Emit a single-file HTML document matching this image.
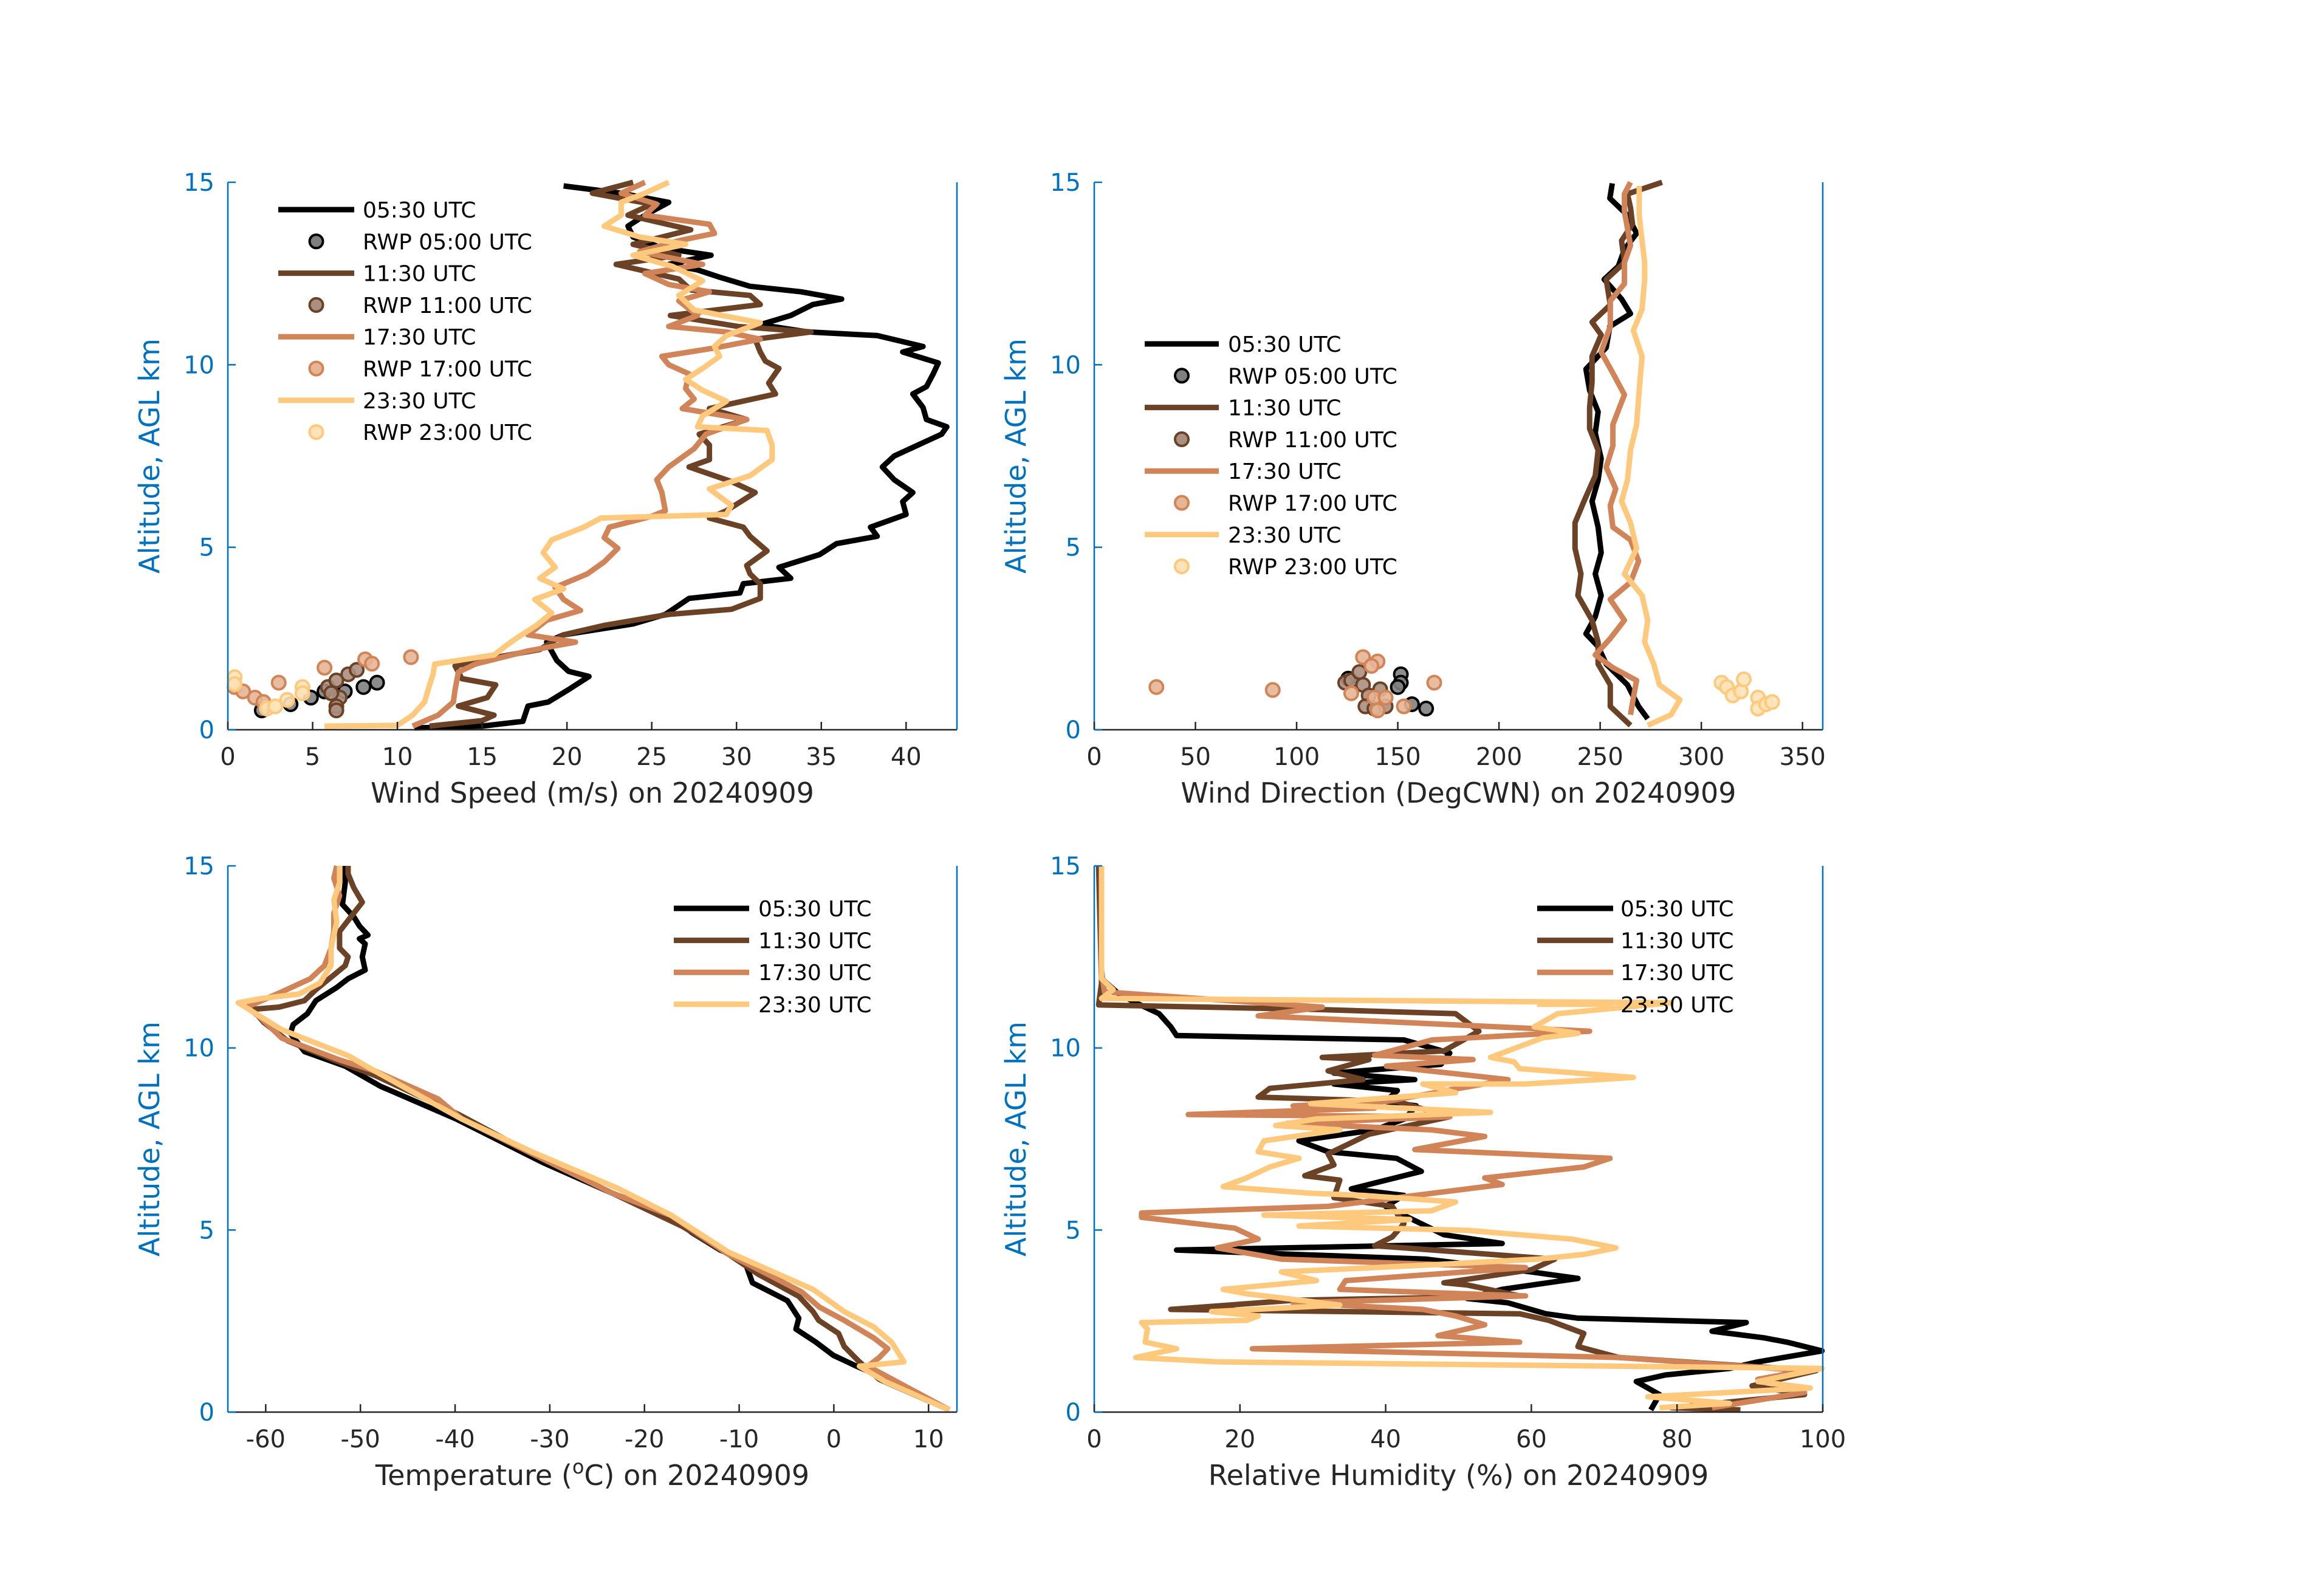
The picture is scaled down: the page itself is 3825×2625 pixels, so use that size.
<!DOCTYPE html>
<html><head><meta charset="utf-8"><style>
html,body{margin:0;padding:0;background:#fff;}
svg{display:block;font-family:"DejaVu Sans","Liberation Sans",sans-serif;}
</style></head><body>
<svg id="fig" width="3825" height="2625" viewBox="0 0 3825 2625" xmlns="http://www.w3.org/2000/svg"></svg>
<script>
// ---------- DATA ----------
const seriesLabels = ["05:30 UTC","11:30 UTC","17:30 UTC","23:30 UTC"];
const rwpLabels = ["RWP 05:00 UTC","RWP 11:00 UTC","RWP 17:00 UTC","RWP 23:00 UTC"];
// Wind speed (m/s)
const ws0_alt=[0.05,0.1,0.23,0.65,0.76,1.1,1.46,1.6,1.9,2.4,2.6,2.9,3.16,3.6,3.75,4.0,4.15,4.45,4.8,5.1,5.3,5.55,5.9,6.25,6.5,6.85,7.2,7.5,7.8,8.1,8.3,8.5,8.83,9.2,9.4,9.75,10.05,10.35,10.5,10.8,10.9,11.1,11.35,11.65,11.8,12.0,12.15,12.4,12.6,12.75,13.0,13.2,13.5,13.8,14.1,14.45,14.7,14.9];
const ws0_val=[11,15,17.4,17.7,18.9,20.1,21.3,20.1,19.4,18.8,19.8,23.9,25.8,27.2,30.2,30.4,33.2,32.5,34.9,35.9,38.3,37.9,40.0,39.8,40.4,39.3,38.6,39.3,40.7,42.1,42.4,41.2,41.0,40.4,41.2,41.6,41.9,39.8,41.0,38.3,34.2,31.4,33.2,34.5,36.2,33.8,30.8,29.0,27.7,26.0,28.5,25.6,23.9,23.6,24.6,26.0,23.2,19.8];
const ws1_alt=[0.1,0.25,0.4,0.65,0.88,1.23,1.4,1.75,2.0,2.2,2.6,2.86,3.16,3.3,3.6,4.0,4.27,4.5,4.9,5.3,5.55,5.8,6.0,6.5,6.8,7.2,7.4,7.8,8.1,8.5,8.8,9.2,9.5,9.9,10.1,10.35,10.7,10.9,11.05,11.35,11.65,11.9,12.05,12.35,12.75,13.0,13.3,13.7,14.1,14.4,14.7,15.0];
const ws1_val=[11.9,15.0,15.7,13.6,15.3,15.8,13.8,13.4,16.0,18.4,19.8,22.2,26.0,29.7,31.4,31.4,30.8,30.6,31.8,30.8,30.4,28.4,29.4,31.1,29.7,27.2,28.4,28.4,27.8,30.6,28.4,32.3,31.9,32.5,31.7,31.4,31.1,34.4,30.1,26.1,31.4,30.8,27.3,26.6,22.9,26.6,23.9,27.3,23.6,25.0,21.5,23.9];
const ws2_alt=[0.1,0.4,0.76,1.1,1.58,1.8,2.16,2.4,2.6,3.0,3.27,3.57,3.9,4.27,4.6,4.97,5.26,5.55,5.85,6.0,6.5,6.85,7.2,7.7,8.1,8.5,8.8,9.06,9.35,9.75,10.0,10.23,10.46,10.7,10.9,11.05,11.35,11.75,12.0,12.2,12.5,12.75,13.1,13.4,13.6,13.85,14.1,14.4,14.7,15.0];
const ws2_val=[10.9,12.4,13.3,13.4,13.6,14.6,17.7,20.5,17.7,18.8,20.8,19.8,19.3,21.2,22.2,23.0,22.2,22.5,25.0,25.8,25.6,25.3,26.0,27.5,28.2,30.6,26.8,27.5,27.0,27.2,26.0,25.6,28.7,31.4,29.4,26.0,27.7,26.6,28.4,26.0,24.6,28.0,24.3,26.6,28.7,28.4,24.6,25.3,23.2,24.6];
const ws3_alt=[0.1,0.12,0.4,0.76,1.23,1.52,1.8,2.05,2.3,2.5,2.86,3.2,3.57,3.86,4.15,4.45,4.85,5.2,5.55,5.8,5.9,6.15,6.6,6.96,7.4,7.8,8.2,8.3,8.6,9.0,9.3,9.6,9.9,10.23,10.5,10.8,11.15,11.5,11.9,12.3,12.7,13.0,13.3,13.5,13.8,14.1,14.45,14.7,15.0];
const ws3_val=[5.7,10.0,10.9,11.6,11.9,12.1,12.2,15.7,16.4,17.0,18.2,19.1,18.1,19.8,18.4,19.3,18.6,19.1,21.0,22.0,29.4,29.7,28.4,30.8,32.1,32.1,31.8,27.7,28.0,29.4,28.0,27.0,28.0,29.0,28.7,29.4,31.4,27.5,26.6,28.0,26.2,23.9,27.0,24.3,22.2,23.2,23.2,24.6,26.0];
// RWP wind speed points
const rwpWs0_spd=[2.0,3.7,4.9,5.7,6.9,8.0,8.8];
const rwpWs0_alt=[0.53,0.70,0.88,1.05,1.05,1.17,1.29];
const rwpWs1_spd=[5.9,6.4,7.1,7.6,6.6,6.4,6.4,6.1];
const rwpWs1_alt=[1.17,1.35,1.52,1.64,0.88,0.64,0.53,1.0];
const rwpWs2_spd=[0.4,0.9,1.6,3.0,5.7,8.1,8.5,10.8,2.1];
const rwpWs2_alt=[1.17,1.05,0.88,1.29,1.70,1.93,1.81,1.99,0.76];
const rwpWs3_spd=[0.4,0.4,2.3,2.8,3.5,4.4,4.4];
const rwpWs3_alt=[1.44,1.25,0.58,0.64,0.82,1.17,1.0];
// Wind direction (deg)
const wd0_alt=[0.3,0.64,1.23,1.8,2.28,2.63,3.1,3.68,4.27,4.85,5.55,6.26,6.84,7.43,8.13,8.71,9.3,9.88,10.47,11.05,11.4,11.8,12.34,12.7,13.16,13.6,14.1,14.56,14.97];
const wd0_val=[273.5,269,263.5,253,249,243,247.6,250.5,247.6,250.5,249,246,249,250.5,247.6,249,244.8,243,253,254.8,265,260.6,252,259,262,268,263.5,254.8,256];
const wd1_alt=[0.12,0.64,1.23,1.8,2.4,3.0,3.68,4.27,4.97,5.67,6.26,6.96,7.66,8.25,8.83,9.53,10.23,10.82,11.17,11.64,12.34,12.8,13.4,13.86,14.3,14.68,15.0];
const wd1_val=[265,255,255,249,249,246,239,240.5,237.6,237.6,242,247.6,249,244.8,244.8,246,246,250.5,246,255,253,262,260.6,266,265,263.5,280.6];
const wd2_alt=[0.41,0.88,1.35,1.7,2.05,2.5,3.0,3.57,4.04,4.62,5.2,5.55,6.14,6.6,7.19,7.78,8.36,9.18,9.77,10.35,11.05,11.75,12.22,12.8,13.27,13.74,14.2,14.68,15.0];
const wd2_val=[265,266.4,268,256.3,247.6,255,262,255,265,269,265,256.3,255,257.7,253,256.3,256.3,262,256.3,250.5,255,255,262,262,265,263.5,262,262,265];
const wd3_alt=[0.12,0.41,0.82,1.23,1.8,2.4,3.0,3.68,4.27,4.97,5.67,6.26,6.84,7.66,8.36,9.3,10.23,10.94,11.52,12.34,12.8,13.4,14.1,14.9];
const wd3_val=[273.5,285,289.4,279.3,276.5,272,273.5,270.7,262,268,265,260.6,263.5,265,268,269.3,270.7,266.4,270.7,272,272,270.7,269.3,269.3];
const rwpWd0_dir=[151.5,151.5,150,157,164,125.5];
const rwpWd0_alt=[1.52,1.29,1.17,0.7,0.58,1.4];
const rwpWd1_dir=[124,127,131,132.8,135.6,134,138.4,141.3,144];
const rwpWd1_alt=[1.29,1.35,1.58,1.23,0.94,0.64,0.58,1.11,0.64];
const rwpWd2_dir=[30.7,88.2,132.8,140,137,127,138.4,144,153,168,140];
const rwpWd2_alt=[1.17,1.09,1.99,1.87,1.75,1.0,0.88,0.88,0.64,1.29,0.53];
const rwpWd3_dir=[310,312.6,315.5,319.6,321,328,328,332,335];
const rwpWd3_alt=[1.29,1.17,0.94,1.05,1.38,0.88,0.58,0.7,0.76];
// Temperature (C)
const t0_alt=[0.06,0.78,1.26,1.56,1.92,2.28,2.58,3.06,3.55,4.2,4.45,4.93,5.41,6.0,6.85,8.05,8.95,9.5,9.9,10.4,10.64,10.94,11.3,11.66,11.9,12.14,12.5,12.86,13.0,13.1,13.35,13.6,13.94,14.54,15.0];
const t0_val=[12.2,6.7,2.4,-0.06,-1.9,-4.0,-3.7,-4.9,-8.6,-9.5,-12,-15,-17.2,-23.3,-30.7,-39.9,-47.9,-51.6,-55.9,-57.4,-57.1,-55.6,-54.7,-52.5,-51.3,-49.5,-49.8,-49.5,-50.1,-49.2,-50.1,-50.7,-51.9,-51.6,-51.6];
const t1_alt=[0.06,0.9,1.38,1.8,2.16,2.52,2.76,3.18,3.79,4.33,5.1,6.0,7.1,8.17,9.25,9.67,10.2,10.7,11.06,11.12,11.3,11.6,12.26,12.5,12.74,13.2,13.5,14.0,14.4,14.78,15.0];
const t1_val=[12.2,4.8,2.7,1.1,0.5,-1.6,-2.2,-3.7,-8.0,-11.1,-16,-23.3,-31.9,-39.6,-48.5,-52.8,-57.7,-60.2,-61.4,-58.6,-55.9,-54.7,-51.6,-51.3,-52.2,-52.2,-51.3,-49.8,-50.7,-51.3,-51.3];
const t2_alt=[0.06,1.26,1.5,1.74,2.04,2.52,2.88,3.3,3.72,4.33,5.4,6.0,7.1,8.05,8.6,9.37,9.67,10.27,10.82,11.12,11.54,11.9,12.26,12.74,13.2,13.7,14.18,14.66,15.0];
const t2_val=[12.2,3.6,4.8,5.7,4.2,1.1,-1.5,-3.4,-6.5,-11.1,-17.2,-23.3,-31.9,-39.3,-41.8,-48.5,-52.2,-58.3,-60.5,-62,-58.3,-55.3,-53.8,-53.1,-52.8,-52.8,-52.2,-52.8,-52.5];
const t3_alt=[0.06,0.84,1.26,1.38,1.92,2.34,2.76,3.37,4.39,5.41,6.13,7.15,8.05,9.37,9.79,10.5,11.24,11.36,11.48,11.78,12.26,12.74,13.46,14.06,14.54,15.0];
const t3_val=[12.2,5.4,2.7,7.4,6.1,4.2,1.1,-2.2,-11.1,-17.2,-22.7,-31.9,-39.3,-48.5,-51.3,-58.3,-62.9,-60.4,-56.5,-54.3,-53.1,-53.1,-52.5,-52.8,-52.2,-52.2];
// Relative humidity (%)
const rh0_alt=[0.06,0.48,0.84,1.02,1.2,1.38,1.68,1.92,2.04,2.22,2.46,2.58,2.7,3.0,3.12,3.37,3.67,3.85,4.2,4.45,4.63,4.87,5.17,5.65,5.95,6.13,6.61,6.97,7.15,7.45,7.75,8.05,8.41,8.53,8.83,9.01,9.13,9.31,9.55,9.86,10.22,10.34,10.58,10.94,11.24,11.48,11.9,15.0];
const rh0_val=[76.4,77.6,74.4,78.4,87.2,91.1,99.9,95.1,91.9,84.8,89.5,66.4,62,56.8,51.2,56,66.4,60,45.6,11.3,56,48,44.9,40,42.5,35.3,44.9,41.5,32.1,28.1,38.5,42.6,44.2,40,41.6,32.9,44,32.9,47.6,48.8,42.5,11.3,10.5,8.9,5.7,3.4,1,1];
const rh1_alt=[0.06,0.12,0.48,0.72,1.14,1.5,1.8,2.16,2.52,2.7,2.82,3.07,3.19,3.49,3.55,3.91,4.2,4.57,4.81,5.17,5.65,5.89,6.37,6.49,6.79,7.09,7.63,8.11,8.53,8.65,8.89,9.13,9.37,9.68,9.74,9.92,10.46,10.94,11.06,11.18,11.78,15.0];
const rh1_val=[88.7,79.2,97.5,90.3,99.1,72,66.4,67.2,62.4,58.4,10.5,27.3,58.4,51.2,48,60,63.2,38.5,40.9,42.5,40.9,32.9,33.7,28.9,32.9,32.1,37.7,48.8,41.6,22.5,24.1,36.9,32.1,37.7,31.3,48,52.8,49.6,29.7,0.6,1,0.6];
const rh2_alt=[0.12,0.54,0.9,1.14,1.5,1.74,1.92,2.1,2.4,2.64,2.82,3.0,3.19,3.37,3.61,3.97,4.2,4.51,4.75,5.05,5.35,5.47,5.65,6.25,6.43,6.73,6.97,7.21,7.57,7.75,7.93,8.11,8.17,8.35,8.41,8.53,9.13,9.5,9.68,9.8,10.22,10.46,10.7,10.88,11.12,11.54,12.14,15.0];
const rh2_val=[84.8,97.5,91.1,97.5,72,21.7,58.4,47.2,53.6,49.6,45.1,27.3,59.2,33.7,34.5,59.2,25.7,16.9,22.5,19.3,6.5,6.5,32.1,56,53.6,67.2,70.8,44,53.6,46.3,26.5,48.8,12.9,38.5,27.3,40,56.8,40.1,52,38.5,46.4,68,42.5,22.5,31.3,1.4,1,1];
const rh3_alt=[0.12,0.24,0.42,0.66,0.84,1.2,1.38,1.5,1.74,1.92,2.28,2.46,2.52,2.64,2.76,2.94,3.25,3.37,3.61,3.85,4.03,4.2,4.33,4.51,4.75,4.99,5.11,5.29,5.41,5.53,5.77,5.95,6.01,6.19,6.43,6.73,6.97,7.15,7.45,7.75,7.87,8.05,8.23,8.47,8.77,9.01,9.01,9.19,9.43,9.62,9.74,10.28,10.4,10.58,10.94,11.24,11.36,11.6,11.9,15.0];
const rh3_val=[77.6,87.2,76,98.3,91.1,99.9,16.9,5.7,11.3,7,7.3,6.5,20.9,22.5,16.1,33.7,20.9,17.7,30.5,25.7,44.9,60.8,67.2,71.6,65.6,51.2,28.1,43.3,23.3,46.3,49.6,36.9,29.7,17.7,20.9,24.1,28.1,22.5,23.3,33.7,24.9,30.5,54.4,29.7,49.6,45.1,59.2,74,58.4,57.6,54.4,61.6,66.4,60.4,63.6,79.2,1,2.6,1,1];
// tick labels
const yTicks=[0,5,10,15];
const wsTicks=[0,5,10,15,20,25,30,35,40];
const wdTicks=[0,50,100,150,200,250,300,350];
const tTicks=[-60,-50,-40,-30,-20,-10,0,10];
const rhTicks=[0,20,40,60,80,100];

// ---------- DRAWING ----------
const NS="http://www.w3.org/2000/svg";
const svg=document.getElementById('fig');
const colors=["#000000","#6b4226","#d08457","#ffc97d"];
const fills=["#7f7f7f","#ab8f80","#e6b595","#ffe3b8"];
function el(tag,attrs,parent){const e=document.createElementNS(NS,tag);for(const k in attrs)e.setAttribute(k,attrs[k]);(parent||svg).appendChild(e);return e;}
function panel(name,box,xmin,xmax,xticks,xlabel,lines,pts,legend){
  const g=el('g',{});
  
  
  const sx=v=>box.x0+(v-xmin)/(xmax-xmin)*(box.x1-box.x0);
  const sy=a=>box.y1-a/15*(box.y1-box.y0);
  lines.forEach((s,i)=>{
    const d=s.alt.map((a,j)=>(j?'L':'M')+sx(s.val[j]).toFixed(1)+' '+sy(a).toFixed(1)).join(' ');
    const p=el('path',{d:d,fill:'none',stroke:colors[i],'stroke-width':9,'stroke-linejoin':'round'},g);
    
    
  });
  (pts||[]).forEach((s,i)=>{
    s.v.forEach((v,j)=>{
      const c=el('circle',{cx:sx(v),cy:sy(s.a[j]),r:11,fill:fills[i],stroke:colors[i],'stroke-width':4,'fill-opacity':0.9},g);
      
      
    });
  });
  const xa=el('line',{x1:box.x0,y1:box.y1,x2:box.x1,y2:box.y1,stroke:'#262626','stroke-width':2.5},g);
  
  
  const ya=el('line',{x1:box.x0,y1:box.y0,x2:box.x0,y2:box.y1,stroke:'#0072bd','stroke-width':2.5},g);
  
  
  const ra=el('line',{x1:box.x1,y1:box.y0,x2:box.x1,y2:box.y1,stroke:'#0072bd','stroke-width':2.5},g);
  
  
  xticks.forEach(t=>{
    const x=sx(t);
    el('line',{x1:x,y1:box.y1,x2:x,y2:box.y1-13,stroke:'#262626','stroke-width':2.5},g);
    const tx=el('text',{x:x,y:box.y1+58,'font-size':40,fill:'#262626','text-anchor':'middle'},g);
    tx.textContent=t;
    
    
  });
  yTicks.forEach(t=>{
    const y=sy(t);
    el('line',{x1:box.x0,y1:y,x2:box.x0+13,y2:y,stroke:'#0072bd','stroke-width':2.5},g);
    const tx=el('text',{x:box.x0-22,y:y+14,'font-size':40,fill:'#0072bd','text-anchor':'end'},g);
    tx.textContent=t;
    
    
  });
  const xl=el('text',{x:(box.x0+box.x1)/2,y:box.y1+120,'font-size':46,fill:'#262626','text-anchor':'middle'},g);
  xl.innerHTML=xlabel;
  
  
  const cy=(box.y0+box.y1)/2, cx=box.x0-113;
  const yl=el('text',{x:cx,y:cy,'font-size':46,fill:'#0072bd','text-anchor':'middle',transform:'rotate(-90 '+cx+' '+cy+')'},g);
  yl.textContent='Altitude, AGL km';
  
  
  legend.rows.forEach((r,k)=>{
    const y=legend.y0+k*legend.dy;
    if(r.type==='line'){
      el('line',{x1:legend.lx0,y1:y,x2:legend.lx1,y2:y,stroke:colors[r.i],'stroke-width':9},g);
    } else {
      el('circle',{cx:(legend.lx0+legend.lx1)/2,cy:y,r:11,fill:fills[r.i],stroke:colors[r.i],'stroke-width':4},g);
    }
    const t=el('text',{x:legend.tx,y:y+13,'font-size':36,fill:'#000'},g);
    t.textContent=r.label;
    
    
  });
}
function legRows(withRwp){const rows=[];for(let i=0;i<4;i++){rows.push({type:'line',i:i,label:seriesLabels[i]});if(withRwp)rows.push({type:'pt',i:i,label:rwpLabels[i]});}return rows;}
const boxA={x0:375,x1:1575,y0:300,y1:1201};
const boxB={x0:1801,x1:3000,y0:300,y1:1201};
const boxC={x0:375,x1:1575,y0:1425,y1:2324};
const boxD={x0:1801,x1:3000,y0:1425,y1:2324};
panel('wind-speed',boxA,0,43,wsTicks,'Wind Speed (m/s) on 20240909',
  [{alt:ws0_alt,val:ws0_val},{alt:ws1_alt,val:ws1_val},{alt:ws2_alt,val:ws2_val},{alt:ws3_alt,val:ws3_val}],
  [{v:rwpWs0_spd,a:rwpWs0_alt},{v:rwpWs1_spd,a:rwpWs1_alt},{v:rwpWs2_spd,a:rwpWs2_alt},{v:rwpWs3_spd,a:rwpWs3_alt}],
  {rows:legRows(true),y0:345,dy:52.3,lx0:458,lx1:583,tx:597});
panel('wind-direction',boxB,0,360,wdTicks,'Wind Direction (DegCWN) on 20240909',
  [{alt:wd0_alt,val:wd0_val},{alt:wd1_alt,val:wd1_val},{alt:wd2_alt,val:wd2_val},{alt:wd3_alt,val:wd3_val}],
  [{v:rwpWd0_dir,a:rwpWd0_alt},{v:rwpWd1_dir,a:rwpWd1_alt},{v:rwpWd2_dir,a:rwpWd2_alt},{v:rwpWd3_dir,a:rwpWd3_alt}],
  {rows:legRows(true),y0:566,dy:52.3,lx0:1884,lx1:2006,tx:2021});
panel('temperature',boxC,-64,13,tTicks,'Temperature (<tspan baseline-shift="super" font-size="32">o</tspan>C) on 20240909',
  [{alt:t0_alt,val:t0_val},{alt:t1_alt,val:t1_val},{alt:t2_alt,val:t2_val},{alt:t3_alt,val:t3_val}],
  null,{rows:legRows(false),y0:1495,dy:52.6,lx0:1109,lx1:1233,tx:1248});
panel('relative-humidity',boxD,0,100,rhTicks,'Relative Humidity (%) on 20240909',
  [{alt:rh0_alt,val:rh0_val},{alt:rh1_alt,val:rh1_val},{alt:rh2_alt,val:rh2_val},{alt:rh3_alt,val:rh3_val}],
  null,{rows:legRows(false),y0:1495,dy:52.6,lx0:2530,lx1:2655,tx:2667});
</script>
</body></html>
